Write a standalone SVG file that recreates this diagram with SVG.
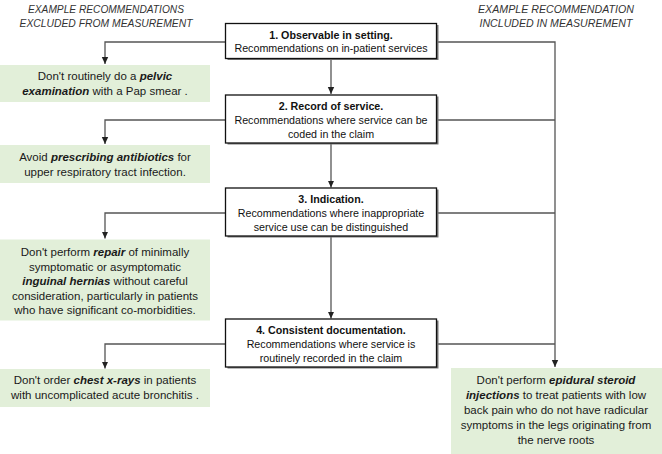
<svg xmlns="http://www.w3.org/2000/svg" width="662" height="454" viewBox="0 0 662 454">
<defs>
<marker id="arr" markerUnits="userSpaceOnUse" markerWidth="8" markerHeight="8" refX="7" refY="4" orient="auto">
<path d="M0,0.8 L7,4 L0,7.2 z" fill="#222"/>
</marker>
<style>
.hdr{font-family:"Liberation Sans",Arial,sans-serif;font-size:11.5px;font-style:italic;fill:#333;text-anchor:middle}
.bx{fill:#fff;stroke:#111;stroke-width:1.3}
.sh{fill:#777}
.bt{font-family:"Liberation Sans",Arial,sans-serif;font-size:10.7px;fill:#111;text-anchor:middle}
.b{font-weight:bold}
.gr{fill:#e2efd9}
.gt{font-family:"Liberation Sans",Arial,sans-serif;font-size:11.5px;fill:#1a1a1a;text-anchor:middle}
.bi{font-weight:bold;font-style:italic}
.ln{fill:none;stroke:#555;stroke-width:1.3}
</style>
</defs>
<g id="headers">
<text class="hdr" x="106" y="13" textLength="156" lengthAdjust="spacingAndGlyphs">EXAMPLE RECOMMENDATIONS</text>
<text class="hdr" x="106" y="27" textLength="173" lengthAdjust="spacingAndGlyphs">EXCLUDED FROM MEASUREMENT</text>
<text class="hdr" x="556" y="13" textLength="156" lengthAdjust="spacingAndGlyphs">EXAMPLE RECOMMENDATION</text>
<text class="hdr" x="556" y="27" textLength="153" lengthAdjust="spacingAndGlyphs">INCLUDED IN MEASUREMENT</text>
</g>
<g id="connectors">
<path class="ln" d="M331,59 V94" marker-end="url(#arr)"/>
<path class="ln" d="M331,144 V187.5" marker-end="url(#arr)"/>
<path class="ln" d="M331,237 V318.5" marker-end="url(#arr)"/>
<path class="ln" d="M226,42 H105 V64" marker-end="url(#arr)"/>
<path class="ln" d="M226,120 H105 V144" marker-end="url(#arr)"/>
<path class="ln" d="M226,213 H105 V238.5" marker-end="url(#arr)"/>
<path class="ln" d="M226,344 H105 V368.5" marker-end="url(#arr)"/>
<path class="ln" d="M437,42 H555 V367" marker-end="url(#arr)"/>
<path class="ln" d="M437,120 H555"/>
<path class="ln" d="M437,213 H555"/>
<path class="ln" d="M437,344 H555"/>
</g>
<g id="box1">
<rect class="sh" x="227.5" y="25" width="211" height="35"/>
<rect class="bx" x="225.5" y="23.5" width="211" height="35"/>
<text class="bt b" x="331" y="38.5">1. Observable in setting.</text>
<text class="bt" x="331" y="52">Recommendations on in-patient services</text>
</g>
<g id="box2">
<rect class="sh" x="227.5" y="96.5" width="211" height="48"/>
<rect class="bx" x="225.5" y="95" width="211" height="48"/>
<text class="bt b" x="331" y="109.5">2. Record of service.</text>
<text class="bt" x="331" y="123.5">Recommendations where service can be</text>
<text class="bt" x="331" y="137.5">coded in the claim</text>
</g>
<g id="box3">
<rect class="sh" x="227.5" y="189.5" width="211" height="48"/>
<rect class="bx" x="225.5" y="188" width="211" height="48"/>
<text class="bt b" x="331" y="202.5">3. Indication.</text>
<text class="bt" x="331" y="216.5">Recommendations where inappropriate</text>
<text class="bt" x="331" y="230.5">service use can be distinguished</text>
</g>
<g id="box4">
<rect class="sh" x="227.5" y="320.5" width="211" height="48"/>
<rect class="bx" x="225.5" y="319" width="211" height="48"/>
<text class="bt b" x="331" y="333.5">4. Consistent documentation.</text>
<text class="bt" x="331" y="347.5">Recommendations where service is</text>
<text class="bt" x="331" y="361.5">routinely recorded in the claim</text>
</g>
<g id="ex1">
<rect class="gr" x="0" y="65" width="210" height="37"/>
<text class="gt" x="105" y="80">Don't routinely do a <tspan class="bi">pelvic</tspan></text>
<text class="gt" x="105" y="95"><tspan class="bi">examination</tspan> with a Pap smear .</text>
</g>
<g id="ex2">
<rect class="gr" x="0" y="145" width="210" height="38"/>
<text class="gt" x="105" y="160.5">Avoid <tspan class="bi">prescribing antibiotics</tspan> for</text>
<text class="gt" x="105" y="175.5">upper respiratory tract infection.</text>
</g>
<g id="ex3">
<rect class="gr" x="0" y="239.5" width="210" height="81"/>
<text class="gt" x="105" y="256">Don't perform <tspan class="bi">repair</tspan> of minimally</text>
<text class="gt" x="105" y="270.5">symptomatic or asymptomatic</text>
<text class="gt" x="105" y="285"><tspan class="bi">inguinal hernias</tspan> without careful</text>
<text class="gt" x="105" y="299.5">consideration, particularly in patients</text>
<text class="gt" x="105" y="314">who have significant co-morbidities.</text>
</g>
<g id="ex4">
<rect class="gr" x="0" y="369" width="210" height="38"/>
<text class="gt" x="105" y="384">Don't order <tspan class="bi">chest x-rays</tspan> in patients</text>
<text class="gt" x="105" y="399">with uncomplicated acute bronchitis .</text>
</g>
<g id="ex5">
<rect class="gr" x="451" y="368" width="211" height="86"/>
<text class="gt" x="556" y="384">Don't perform <tspan class="bi">epidural steroid</tspan></text>
<text class="gt" x="556" y="399"><tspan class="bi">injections</tspan> to treat patients with low</text>
<text class="gt" x="556" y="414">back pain who do not have radicular</text>
<text class="gt" x="556" y="429">symptoms in the legs originating from</text>
<text class="gt" x="556" y="444">the nerve roots</text>
</g>
</svg>
